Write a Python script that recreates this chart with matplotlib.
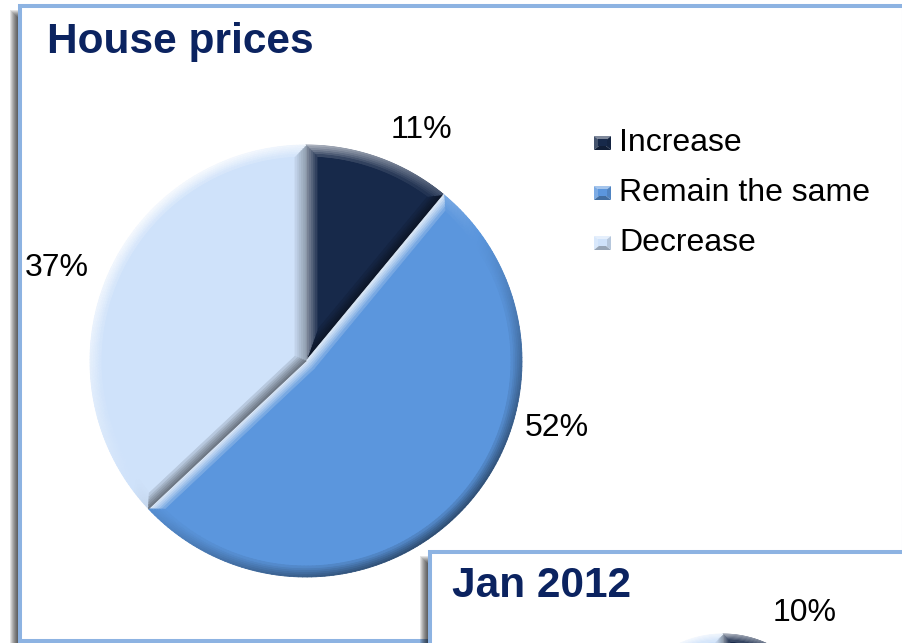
import numpy as np
import matplotlib
matplotlib.use('Agg')
import matplotlib.pyplot as plt
from matplotlib.patches import Rectangle, Polygon
from matplotlib.collections import PolyCollection
from matplotlib.colors import to_rgb

plt.rcParams['font.family'] = ['Liberation Sans', 'DejaVu Sans']

categories = ['Increase', 'Remain the same', 'Decrease']
house_prices = [11, 52, 37]
jan_2012 = [10, 50, 40]
slice_colors = ['#17294a', '#5b96dd', '#cfe2fa']

NAVY = '#0b2360'
FRAME = '#8db3e2'
W, H = 903, 643

fig = plt.figure(figsize=(W / 100, H / 100), dpi=100)
ax = fig.add_axes([0, 0, 1, 1])


def py(y):
    # pixel rows are counted from the top, the axes runs bottom-up
    return H - y


LIGHT = np.array([-0.6, 0.8])


def shade(base, s, strength):
    c = np.array(to_rgb(base))
    if s >= 0:
        return tuple(c + (1 - c) * s * strength)
    return tuple(c * (1 - (-s) * strength * 0.6))


def bevel(wedge, base, width=10, bands=6, z=4):
    cx, cy = wedge.center
    r = wedge.r
    t1, t2 = np.radians(wedge.theta1), np.radians(wedge.theta2)
    phi, half = (t1 + t2) / 2, (t2 - t1) / 2
    rings = []
    for d in np.linspace(0, width, bands + 1):
        off = d / np.sin(half)
        apex = (cx + off * np.cos(phi), cy + off * np.sin(phi))
        dl = np.arcsin(d / (r - d))
        th = np.linspace(t1 + dl, t2 - dl, 160)
        arc = np.column_stack([cx + (r - d) * np.cos(th), cy + (r - d) * np.sin(th)])
        rings.append(np.vstack([apex, arc, apex]))
    # outward normal of every boundary segment
    th0 = np.linspace(t1, t2, 160)
    normals = [t1 - np.pi / 2] + list((th0[:-1] + th0[1:]) / 2) + [t2 + np.pi / 2]
    polys, cols = [], []
    for k in range(bands):
        a, b = rings[k], rings[k + 1]
        strength = 0.8 * (1 - k / bands) ** 0.8
        for j, n in enumerate(normals):
            s = np.dot([np.cos(n), np.sin(n)], LIGHT)
            polys.append([a[j], a[j + 1], b[j + 1], b[j]])
            cols.append(shade(base, s, strength))
    pc = PolyCollection(polys, facecolors=cols, edgecolors=cols, linewidths=0.6, zorder=z)
    ax.add_collection(pc)


def frame_box(x0, y0, x1, y1, z):
    # soft drop shadow towards the left, then the white panel
    for i in range(1, 11):
        ax.add_patch(Rectangle((x0 - i, py(y1 + 40)), x1 - x0 + 40, (y1 + 40) - (y0 + 14 - i),
                               facecolor='black', edgecolor='none', alpha=0.11, zorder=z))
    ax.add_patch(Rectangle((x0, py(y1)), x1 - x0, y1 - y0, facecolor='white',
                           edgecolor=FRAME, linewidth=2.9, zorder=z + 0.5))


def legend_key(x, y, w, h, base, z=5):
    x0, x1, y0, y1 = x, x + w, py(y + h), py(y)
    xc, yc = (x0 + x1) / 2, (y0 + y1) / 2
    tris = [([x0, y1], [x1, y1], 0.45), ([x0, y0], [x0, y1], 0.2),
            ([x1, y0], [x0, y0], -0.45), ([x1, y1], [x1, y0], -0.2)]
    for p, q, s in tris:
        ax.add_patch(Polygon([p, q, [xc, yc]], closed=True, facecolor=shade(base, np.sign(s), abs(s)),
                             edgecolor='none', zorder=z))
    ax.add_patch(Rectangle((x + w * 0.25, py(y + h * 0.75)), w * 0.5, h * 0.5,
                           facecolor=base, edgecolor='none', zorder=z + 0.1))


# main panel
frame_box(20, 6, 904, 641, 1)
ax.text(47, py(53), 'House prices', fontsize=30.5, fontweight='bold', color=NAVY,
        va='baseline', ha='left', zorder=3)

wedges, _ = ax.pie(house_prices, colors=slice_colors, startangle=90, counterclock=False,
                   center=(306, py(361)), radius=216, wedgeprops={'zorder': 3, 'linewidth': 0})
for w, c in zip(wedges, slice_colors):
    bevel(w, c, width=11, z=3.5)

label_pos = [(421, 130), (557, 428), (57, 268)]
for (lx, ly), v in zip(label_pos, house_prices):
    ax.text(lx, py(ly), f'{v}%', fontsize=23, ha='center', va='center', color='black', zorder=5)

for i, (name, c) in enumerate(zip(categories, slice_colors)):
    base_y = 151 + 50 * i
    legend_key(594, base_y - 15, 17, 14, c)
    ax.text(619, py(base_y), name, fontsize=23, ha='left', va='baseline', color='black', zorder=5)

# second panel, overlapping the bottom right corner
frame_box(430, 551.5, 1100, 900, 6)
ax.text(452, py(597), 'Jan 2012', fontsize=30.5, fontweight='bold', color=NAVY,
        va='baseline', ha='left', zorder=8)

wedges2, _ = ax.pie(jan_2012, colors=slice_colors, startangle=90, counterclock=False,
                    center=(723, py(739)), radius=105, wedgeprops={'zorder': 8, 'linewidth': 0})
for w, c in zip(wedges2, slice_colors):
    bevel(w, c, width=7, z=8.5)
ax.text(805, py(613), f'{jan_2012[0]}%', fontsize=23, ha='center', va='center', color='black', zorder=9)

ax.set_xlim(0, W)
ax.set_ylim(0, H)
ax.set_aspect('equal')
ax.axis('off')

fig.savefig('out.png', dpi=100, facecolor='white')
